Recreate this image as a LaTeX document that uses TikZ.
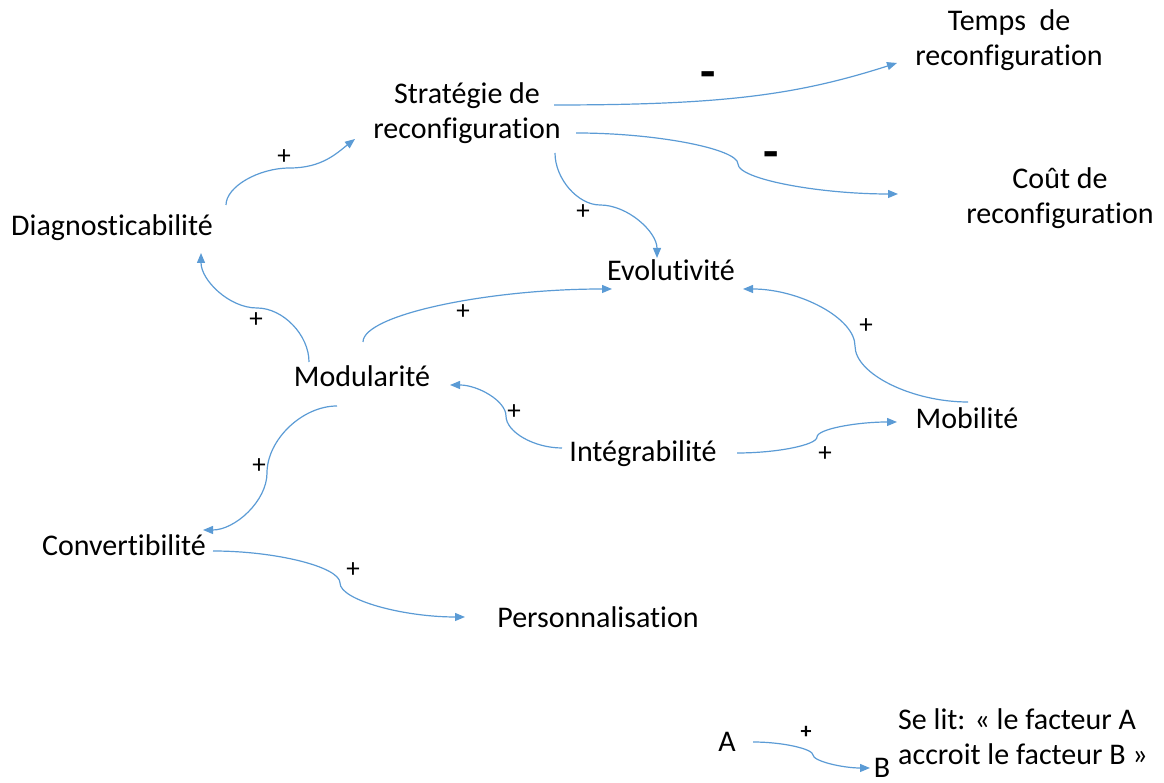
\documentclass[tikz,border=0pt]{standalone}
\usepackage{fontspec}
\setmainfont{Carlito}[Ligatures={NoCommon}]
\usepackage{xcolor}
\usepackage{tikz}
\usetikzlibrary{arrows.meta}
\definecolor{linkblue}{HTML}{5B9BD5}

\begin{document}
\begin{tikzpicture}[x=1pt, y=1pt, every node/.style={inner sep=0pt, align=center, font=\fontsize{30}{35}\selectfont},
  link/.style={draw=linkblue, line width=1.2pt, -{Triangle[length=10pt,width=8pt]}},
  sign/.style={font=\fontsize{27}{27}\selectfont},
  minus/.style={font=\fontsize{50}{50}\selectfont\bfseries}]
\useasboundingbox (0,0) rectangle (1164,783);
% factors
\node (strat) at (467,670) {Stratégie de\\reconfiguration};
\node (temps) at (1009,743) {Temps~ de\\reconfiguration};
\node (cout) at (1060,585) {Coût de\\reconfiguration};
\node (diag) at (112,555) {Diagnosticabilité};
\node (evol) at (671,513) {Evolutivité};
\node (modu) at (362,407) {Modularité};
\node (mobi) at (967,365) {Mobilité};
\node (integ) at (643,329) {Intégrabilité};
\node (conv) at (124,238) {Convertibilité};
\node (perso) at (598,166) {Personnalisation};
% legend
\node (a) at (727,41) {A};
\node (b) at (882,15) {B};
\node[anchor=west, align=left] (note) at (898,46) {Se lit: « le facteur A\\accroit le facteur B »};
% links
\draw[link] ([shift={(114,23)}]diag.center) .. controls +(0,18) and +(-32,0) .. (290,615) .. controls +(32,0) and +(-18,-14) .. ([shift={(-112,-26)}]strat.center);
\draw[link] ([shift={(87,8)}]strat.center) .. controls +(170,0) and +(-100,-32) .. ([shift={(-112,-23)}]temps.center);
\draw[link] ([shift={(109,-20)}]strat.center) .. controls +(81,0) and +(0,15) .. (738,619) .. controls +(0,-15) and +(-80,0) .. ([shift={(-162,4)}]cout.center);
\draw[link] ([shift={(88,-40)}]strat.center) .. controls +(0,-26) and +(-22,0) .. (600,578) .. controls +(28,0) and +(0,26) .. ([shift={(-14,12)}]evol.center);
\draw[link] ([shift={(-53,14)}]modu.center) .. controls +(0,27) and +(26,0) .. (257,475) .. controls +(-28,0) and +(0,-27) .. ([shift={(89,-25)}]diag.center);
\draw[link] ([shift={(1,34)}]modu.center) .. controls +(0,27) and +(-125,0) .. ([shift={(-59,-19)}]evol.center);
\draw[link] ([shift={(1,16)}]mobi.center) .. controls +(-56,0) and +(0,-28) .. (855,437) .. controls +(0,28) and +(56,0) .. ([shift={(72,-19)}]evol.center);
\draw[link] ([shift={(-81,6)}]integ.center) .. controls +(-28,0) and +(0,-16) .. (506,367) .. controls +(0,15) and +(28,0) .. ([shift={(88,-9)}]modu.center);
\draw[link] ([shift={(94,1)}]integ.center) .. controls +(40,0) and +(0,-8) .. (817,346) .. controls +(0,8) and +(-40,0) .. ([shift={(-70,-4)}]mobi.center);
\draw[link] ([shift={(-25,-30)}]modu.center) .. controls +(-35,0) and +(0,33) .. (267,310) .. controls +(0,-28) and +(32,0) .. ([shift={(79,15)}]conv.center);
\draw[link] ([shift={(89,-6)}]conv.center) .. controls +(63,0) and +(0,16) .. (340,200) .. controls +(0,-17) and +(-62,0) .. ([shift={(-133,0)}]perso.center);
\draw[link] ([shift={(26,0)}]a.center) .. controls +(30,0) and +(0,6) .. (813,28) .. controls +(0,-6) and +(-28,0) .. ([shift={(-12,0)}]b.center);
% signs
\node[sign] (s1) at (284,626) {+};
\node[minus] (s2) at (708,703) {-};
\node[minus] (s3) at (771,623) {-};
\node[sign] (s4) at (583,571) {+};
\node[sign] (s5) at (256,463) {+};
\node[sign] (s6) at (463,471) {+};
\node[sign] (s7) at (866,457) {+};
\node[sign] (s8) at (514,371) {+};
\node[sign] (s9) at (825,329) {+};
\node[sign] (s10) at (259,317) {+};
\node[sign] (s11) at (353,213) {+};
\node[sign, font=\fontsize{22}{22}\selectfont\bfseries] (s12) at (806,51) {+};
\end{tikzpicture}
\end{document}
